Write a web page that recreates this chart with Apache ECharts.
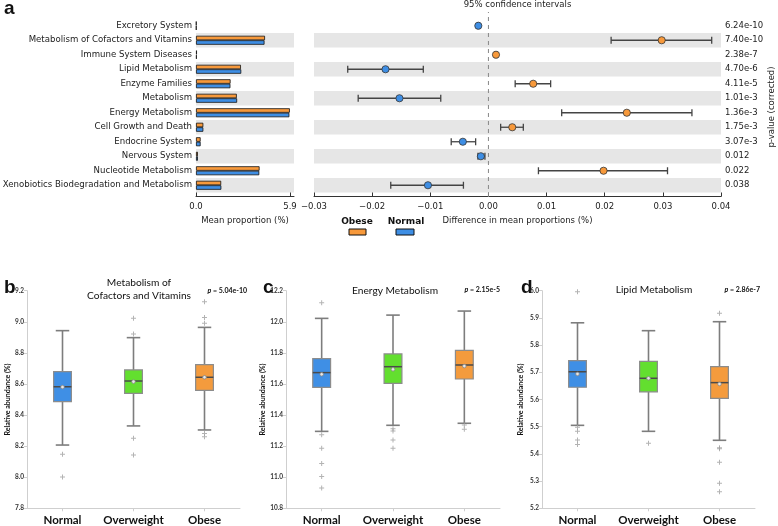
<!DOCTYPE html>
<html><head><meta charset="utf-8">
<script src="https://cdn.jsdelivr.net/npm/echarts@6/dist/echarts.min.js"></script>
<style>html,body{margin:0;padding:0;background:#fff}#c{width:778px;height:526px}</style>
</head><body><div id="c"></div>
<script>
// ---------- DATA ----------
const pathways = ['Excretory System','Metabolism of Cofactors and Vitamins','Immune System Diseases','Lipid Metabolism','Enzyme Families','Metabolism','Energy Metabolism','Cell Growth and Death','Endocrine System','Nervous System','Nucleotide Metabolism','Xenobiotics Biodegradation and Metabolism'];
const obeseMean  = [0.03, 4.33, 0.06, 2.82, 2.17, 2.56, 5.89, 0.46, 0.29, 0.12, 3.99, 1.58];
const normalMean = [0.03, 4.30, 0.05, 2.84, 2.16, 2.58, 5.86, 0.46, 0.29, 0.12, 3.97, 1.59];
const diffMean = [-0.00174, 0.0298, 0.0013, -0.0177, 0.0077, -0.0153, 0.0238, 0.0041, -0.0044, -0.0013, 0.0198, -0.0104];
const ciLow    = [-0.0019, 0.0211, 0.0011, -0.0242, 0.0046, -0.0224, 0.0126, 0.0021, -0.0064, -0.0018, 0.0086, -0.0168];
const ciHigh   = [-0.0016, 0.0384, 0.0015, -0.0112, 0.0107, -0.0082, 0.0350, 0.0060, -0.0022, -0.0006, 0.0308, -0.0043];
const pValues  = ['6.24e-10','7.40e-10','2.38e-7','4.70e-6','4.11e-5','1.01e-3','1.36e-3','1.75e-3','3.07e-3','0.012','0.022','0.038'];

const groups = ['Normal','Overweight','Obese'];
// [min, Q1, median, Q3, max]
const cofactorsBox = [[8.207,8.486,8.582,8.679,8.943],[8.330,8.540,8.619,8.690,8.898],[8.304,8.559,8.643,8.724,8.964]];
const cofactorsAvg = [8.580, 8.615, 8.643];
const cofactorsOutliers = [[0,8.147],[0,8.001],[1,9.022],[1,8.921],[1,8.250],[1,8.143],[2,9.129],[2,9.028],[2,8.990],[2,8.282],[2,8.261]];
const energyBox = [[11.295,11.578,11.673,11.763,12.022],[11.334,11.604,11.711,11.793,12.043],[11.347,11.632,11.722,11.816,12.069]];
const energyAvg = [11.662, 11.694, 11.715];
const energyOutliers = [[0,12.123],[0,11.274],[0,11.186],[0,11.089],[0,11.004],[0,10.931],[1,11.312],[1,11.297],[1,11.239],[1,11.186],[2,11.336],[2,11.308]];
const lipidBox = [[5.505,5.645,5.702,5.743,5.882],[5.483,5.628,5.678,5.740,5.853],[5.450,5.604,5.662,5.721,5.886]];
const lipidAvg = [5.694, 5.678, 5.657];
const lipidOutliers = [[0,5.996],[0,5.498],[0,5.483],[0,5.451],[0,5.435],[1,5.439],[2,5.917],[2,5.423],[2,5.419],[2,5.369],[2,5.292],[2,5.261]];

// ---------- STYLE ----------
const ORANGE = '#f7993b', BLUE = '#3e8ee4';
const boxColors = ['#3f8fe5', '#63df2f', '#f49b3d'];
const FA = 'DejaVu Sans', FB = 'Lato';

const chart = echarts.init(document.getElementById('c'), null, {renderer: 'canvas'});

function ciRender(params, api) {
  const r = api.value(3);
  const lo = api.coord([api.value(0), r]);
  const m = api.coord([api.value(1), r]);
  const hi = api.coord([api.value(2), r]);
  const col = api.value(1) > 0 ? ORANGE : BLUE;
  const h = 3.5, st = {stroke: '#444', lineWidth: 1.3};
  return {type: 'group', children: [
    {type: 'line', shape: {x1: lo[0], y1: lo[1], x2: hi[0], y2: hi[1]}, style: st},
    {type: 'line', shape: {x1: lo[0], y1: lo[1] - h, x2: lo[0], y2: lo[1] + h}, style: st},
    {type: 'line', shape: {x1: hi[0], y1: hi[1] - h, x2: hi[0], y2: hi[1] + h}, style: st},
    {type: 'circle', shape: {cx: m[0], cy: m[1], r: 3.6}, style: {fill: col, stroke: '#333', lineWidth: 0.8}}
  ]};
}

function boxRender(params, api) {
  const i = api.value(0);
  const band = api.size([1, 0])[0];
  const bw = band * 0.25, cw = band * 0.19;
  const p = k => api.coord([i, api.value(k)]);
  const x = p(1)[0];
  const yMin = p(1)[1], yQ1 = p(2)[1], yMed = p(3)[1], yQ3 = p(4)[1], yMax = p(5)[1], yAvg = p(6)[1];
  const ws = {stroke: '#7d7d7d', lineWidth: 1.6};
  return {type: 'group', children: [
    {type: 'line', shape: {x1: x, y1: yMax, x2: x, y2: yQ3}, style: ws},
    {type: 'line', shape: {x1: x, y1: yQ1, x2: x, y2: yMin}, style: ws},
    {type: 'line', shape: {x1: x - cw / 2, y1: yMax, x2: x + cw / 2, y2: yMax}, style: ws},
    {type: 'line', shape: {x1: x - cw / 2, y1: yMin, x2: x + cw / 2, y2: yMin}, style: ws},
    {type: 'rect', shape: {x: x - bw / 2, y: yQ3, width: bw, height: yQ1 - yQ3}, style: {fill: boxColors[i], stroke: '#8c8c8c', lineWidth: 1.2}},
    {type: 'line', shape: {x1: x - bw / 2, y1: yMed, x2: x + bw / 2, y2: yMed}, style: {stroke: '#4a4a4a', lineWidth: 1.5}},
    {type: 'circle', shape: {cx: x, cy: yAvg, r: 1.8}, style: {fill: '#e8e8e8', stroke: '#888', lineWidth: 0.8}}
  ]};
}

const panels = [
  {box: cofactorsBox, avg: cofactorsAvg, out: cofactorsOutliers, min: 7.8, max: 9.2, step: 0.2, left: 27, width: 213, gap: 14},
  {box: energyBox, avg: energyAvg, out: energyOutliers, min: 10.8, max: 12.2, step: 0.2, left: 286, width: 214, gap: 19},
  {box: lipidBox, avg: lipidAvg, out: lipidOutliers, min: 5.2, max: 6.0, step: 0.1, left: 542, width: 213, gap: 18}
];

const grid = [
  {left: 196, top: 18.5, width: 98, height: 174, outerBoundsMode: 'none', containLabel: false},
  {left: 314, top: 18.5, width: 407, height: 174, outerBoundsMode: 'none', containLabel: false},
  {left: 314, top: 12, width: 407, height: 185, outerBoundsMode: 'none', containLabel: false}
];
panels.forEach(p => grid.push({left: p.left, top: 290.7, width: p.width, height: 217.6, outerBoundsMode: 'none', containLabel: false}));

const fmtDiff = v => (v < 0 ? '\u2212' : '') + Math.abs(v).toFixed(2);

const xAxis = [
  {gridIndex: 0, type: 'value', min: 0, max: 6.15, offset: 4,
    axisLine: {show: true, lineStyle: {color: '#333', width: 1}},
    axisTick: {show: true, inside: true, length: 4, customValues: [0, 5.9], lineStyle: {color: '#333'}},
    axisLabel: {customValues: [0, 5.9], formatter: v => v.toFixed(1), fontFamily: FA, fontSize: 8.5, color: '#222', margin: 6},
    splitLine: {show: false},
    name: 'Mean proportion (%)', nameLocation: 'middle', nameGap: 20,
    nameTextStyle: {fontFamily: FA, fontSize: 8.5, color: '#222'}},
  {gridIndex: 1, type: 'value', min: -0.03, max: 0.04, interval: 0.01, offset: 4,
    axisLine: {show: true, lineStyle: {color: '#333', width: 1}},
    axisTick: {show: true, inside: true, length: 4, lineStyle: {color: '#333'}},
    axisLabel: {formatter: fmtDiff, fontFamily: FA, fontSize: 8.5, color: '#222', margin: 6},
    splitLine: {show: false},
    name: 'Difference in mean proportions (%)', nameLocation: 'middle', nameGap: 20,
    nameTextStyle: {fontFamily: FA, fontSize: 8.5, color: '#222'}},
  {gridIndex: 2, type: 'value', min: -0.03, max: 0.04, show: false}
];
const bandArea = {show: true, interval: 0, areaStyle: {color: ['rgba(0,0,0,0)', '#e6e6e6']}};
const yAxis = [
  {gridIndex: 0, type: 'category', data: pathways, inverse: true,
    axisLine: {show: false}, axisTick: {show: false, interval: 0},
    axisLabel: {interval: 0, fontFamily: FA, fontSize: 8.6, color: '#222', margin: 4},
    splitArea: bandArea},
  {gridIndex: 1, type: 'category', data: pathways, inverse: true,
    axisLine: {show: false}, axisTick: {show: false, interval: 0}, axisLabel: {show: false, interval: 0},
    splitArea: bandArea},
  {gridIndex: 1, type: 'category', data: pValues, inverse: true, position: 'right',
    axisLine: {show: false}, axisTick: {show: false},
    axisLabel: {interval: 0, fontFamily: FA, fontSize: 8.5, color: '#222', margin: 4}},
  {gridIndex: 2, type: 'value', min: 0, max: 1, show: false}
];

const series = [
  {type: 'bar', name: 'Obese', xAxisIndex: 0, yAxisIndex: 0, data: obeseMean, barWidth: 4.5, barGap: '0%',
    itemStyle: {color: ORANGE, borderColor: '#111', borderWidth: 0.8}},
  {type: 'bar', name: 'Normal', xAxisIndex: 0, yAxisIndex: 0, data: normalMean, barWidth: 4.5, barGap: '0%',
    itemStyle: {color: BLUE, borderColor: '#111', borderWidth: 0.8}},
  {type: 'line', xAxisIndex: 2, yAxisIndex: 3, data: [[0, 0], [0, 1]], symbol: 'none', silent: true, z: 1,
    lineStyle: {color: '#888', width: 1, type: [4, 4]}},
  {type: 'custom', xAxisIndex: 1, yAxisIndex: 1, renderItem: ciRender, z: 3,
    encode: {x: [0, 1, 2], y: 3},
    data: pathways.map((_, i) => [ciLow[i], diffMean[i], ciHigh[i], i])}
];

const plus = 'path://M4,0h2v4h4v2h-4v4h-2v-4h-4v-2h4z';
panels.forEach((p, k) => {
  const gi = 3 + k;
  xAxis.push({gridIndex: gi, type: 'category', data: groups,
    axisLine: {show: true, lineStyle: {color: '#cfcfcf', width: 1}},
    axisTick: {show: true, alignWithLabel: true, interval: 0, length: 3, lineStyle: {color: '#cfcfcf'}},
    axisLabel: {interval: 0, fontFamily: FB, fontWeight: 'bold', fontSize: 11.5, color: '#111', margin: 6}});
  yAxis.push({gridIndex: gi, type: 'value', min: p.min, max: p.max, interval: p.step,
    axisLine: {show: true, lineStyle: {color: '#cfcfcf', width: 1}},
    axisTick: {show: true, length: 3, lineStyle: {color: '#cfcfcf'}},
    splitLine: {show: false},
    axisLabel: {formatter: v => v.toFixed(1), fontFamily: FB, fontWeight: 'bold', fontSize: 6.5, color: '#333', margin: 3},
    name: 'Relative abundance (%)', nameLocation: 'middle', nameRotate: 90, nameGap: p.gap,
    nameTextStyle: {fontFamily: FB, fontWeight: 'bold', fontSize: 7, color: '#111'}});
  series.push({type: 'custom', xAxisIndex: gi, yAxisIndex: 4 + k, renderItem: boxRender,
    encode: {x: 0, y: [1, 2, 3, 4, 5]},
    data: p.box.map((b, i) => [i, b[0], b[1], b[2], b[3], b[4], p.avg[i]])});
  series.push({type: 'scatter', xAxisIndex: gi, yAxisIndex: 4 + k, data: p.out, symbol: plus, symbolSize: 5,
    itemStyle: {color: '#a0a0a0'}, z: 4});
});

const txt = (t, x, y, font, align, extra) => ({type: 'text', x: x, y: y, silent: true,
  style: Object.assign({text: t, font: font, align: align || 'center', verticalAlign: 'middle', fill: '#111'}, extra || {})});
const pStyle = {rich: {i: {fontStyle: 'italic', fontWeight: 'bold', fontSize: 7, fontFamily: FB}, n: {fontWeight: 'bold', fontSize: 7, fontFamily: FB}}};

const pLabel = txt('p-value (corrected)', 772, 107, '8.5px DejaVu Sans', 'center', {fill: '#222'});
pLabel.rotation = Math.PI / 2;

const graphic = [
  txt('a', 4, 9, 'bold 19px Liberation Sans', 'left'),
  txt('b', 4, 288, 'bold 19px Liberation Sans', 'left'),
  txt('c', 263, 288, 'bold 19px Liberation Sans', 'left'),
  txt('d', 521, 288, 'bold 19px Liberation Sans', 'left'),
  txt('95% confidence intervals', 517.5, 4.5, '8.5px DejaVu Sans', 'center', {fill: '#222'}),
  pLabel,
  txt('Obese', 357, 222, 'bold 9px DejaVu Sans'),
  txt('Normal', 406, 222, 'bold 9px DejaVu Sans'),
  {type: 'rect', shape: {x: 349, y: 229, width: 17, height: 6}, style: {fill: ORANGE, stroke: '#111', lineWidth: 1}},
  {type: 'rect', shape: {x: 396, y: 229, width: 18, height: 6}, style: {fill: BLUE, stroke: '#111', lineWidth: 1}},
  txt('Metabolism of', 139, 283, '10.2px Lato'),
  txt('Cofactors and Vitamins', 139, 296, '10.2px Lato'),
  txt('Energy Metabolism', 395, 291, '10.2px Lato'),
  txt('Lipid Metabolism', 654, 290, '10.2px Lato'),
  txt('{i|p}{n| = 5.04e-10}', 247, 291, 'bold 7px Lato', 'right', pStyle),
  txt('{i|p}{n| = 2.15e-5}', 500, 290, 'bold 7px Lato', 'right', pStyle),
  txt('{i|p}{n| = 2.86e-7}', 760, 290, 'bold 7px Lato', 'right', pStyle)
];

chart.setOption({animation: false, backgroundColor: '#fff', grid, xAxis, yAxis, series, graphic});
</script></body></html>
